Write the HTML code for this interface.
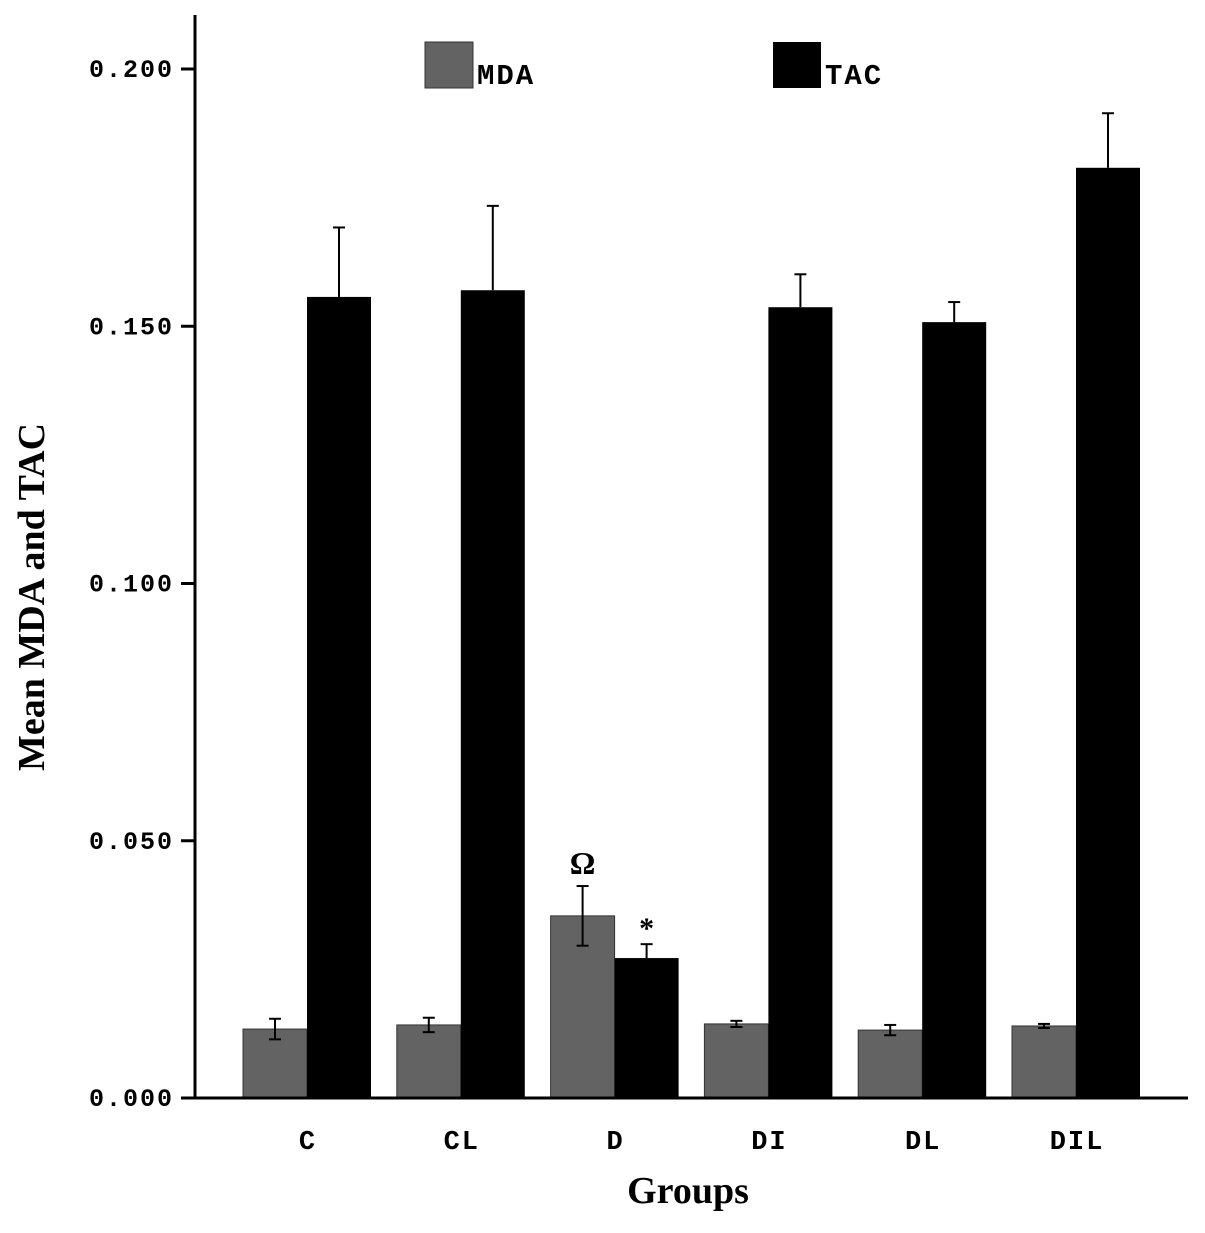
<!DOCTYPE html>
<html><head><meta charset="utf-8"><style>
html,body{margin:0;padding:0;background:#fff;}
svg text{font-weight:bold;}
.mono{font-family:"Liberation Mono",monospace;}
.serif{font-family:"Liberation Serif",serif;}
</style></head><body>
<svg id="chart" width="1205" height="1228" xmlns="http://www.w3.org/2000/svg"></svg>
<script>
const categories=["C","CL","D","DI","DL","DIL"];
const mdaValues=[0.0134,0.0142,0.0354,0.0144,0.0132,0.0140];
const mdaErrors=[0.0020,0.0014,0.0058,0.0006,0.0010,0.0004];
const tacValues=[0.1557,0.1570,0.0272,0.1537,0.1508,0.1808];
const tacErrors=[0.0135,0.0164,0.0027,0.0064,0.0039,0.0106];
const yTicks=[0,0.05,0.1,0.15,0.2];
const yTickLabels=["0.000","0.050","0.100","0.150","0.200"];

const NS="http://www.w3.org/2000/svg";
const svg=document.getElementById('chart');
const x0=195,y0=1098,yTop=69,vMax=0.2;
const groupStart=243,groupStep=153.8,barW=64;
function y(v){return y0-(v/vMax)*(y0-yTop);}
function gx(i){return groupStart+i*groupStep;}
function mk(tag,attrs,name,text){
  const e=document.createElementNS(NS,tag);
  for(const k in attrs)e.setAttribute(k,attrs[k]);
  
  
  if(text!==undefined)e.textContent=text;
  svg.appendChild(e);return e;
}
function errBar(cx,v,e,both,name){
  const top=y(v+e),bot=both?y(v-e):y(v);
  mk('line',{x1:cx,x2:cx,y1:top,y2:bot,stroke:'#000','stroke-width':2},name);
  mk('line',{x1:cx-6,x2:cx+6,y1:top,y2:top,stroke:'#000','stroke-width':2},name+'-cap');
  if(both)mk('line',{x1:cx-6,x2:cx+6,y1:bot,y2:bot,stroke:'#000','stroke-width':2},name+'-cap-low');
}
categories.forEach((c,i)=>{
  const xm=gx(i),xt=xm+barW;
  mk('rect',{x:xm,y:y(mdaValues[i]),width:barW,height:y0-y(mdaValues[i]),fill:'#636363',stroke:'#333','stroke-width':1},'bar-mda-'+c.toLowerCase());
  mk('rect',{x:xt,y:y(tacValues[i]),width:barW,height:y0-y(tacValues[i]),fill:'#000'},'bar-tac-'+c.toLowerCase());
  errBar(xm+barW/2,mdaValues[i],mdaErrors[i],true,'error-mda-'+c.toLowerCase());
  errBar(xt+barW/2,tacValues[i],tacErrors[i],false,'error-tac-'+c.toLowerCase());
  mk('text',{x:xt+1,y:1149,'text-anchor':'middle','font-size':27,'letter-spacing':2,class:'mono'},'x-tick-label-'+c.toLowerCase(),c);
});
mk('text',{x:gx(2)+barW/2,y:y(mdaValues[2]+mdaErrors[2])-12,'text-anchor':'middle','font-size':32,class:'serif'},'omega-mark','Ω');
mk('text',{x:gx(2)+barW*1.5,y:y(tacValues[2]+tacErrors[2])-6,'text-anchor':'middle','font-size':30,class:'serif'},'asterisk-mark','*');
yTicks.forEach((t,i)=>{
  mk('line',{x1:x0-14,x2:x0,y1:y(t),y2:y(t),stroke:'#000','stroke-width':3},'y-tick');
  mk('text',{x:174,y:y(t)+8,'text-anchor':'end','font-size':25,'letter-spacing':2,class:'mono'},'y-tick-label',yTickLabels[i]);
});
mk('line',{x1:x0,x2:x0,y1:15,y2:y0+1,stroke:'#000','stroke-width':3},'y-axis');
mk('line',{x1:x0,x2:1188,y1:y0,y2:y0,stroke:'#000','stroke-width':3},'x-axis');
mk('rect',{x:425,y:42,width:48,height:46,fill:'#636363',stroke:'#333','stroke-width':1},'legend-swatch-mda');
mk('text',{x:477,y:84,'font-size':29,'letter-spacing':2,class:'mono'},'legend-label-mda','MDA');
mk('rect',{x:773,y:42,width:48,height:46,fill:'#000'},'legend-swatch-tac');
mk('text',{x:825,y:84,'font-size':29,'letter-spacing':2,class:'mono'},'legend-label-tac','TAC');
mk('text',{x:688,y:1203,'text-anchor':'middle','font-size':38,class:'serif'},'x-axis-title','Groups');
mk('text',{x:0,y:0,'text-anchor':'middle','font-size':38,class:'serif',transform:'translate(44,597) rotate(-90)'},'y-axis-title','Mean MDA and TAC');
</script>
</body></html>
